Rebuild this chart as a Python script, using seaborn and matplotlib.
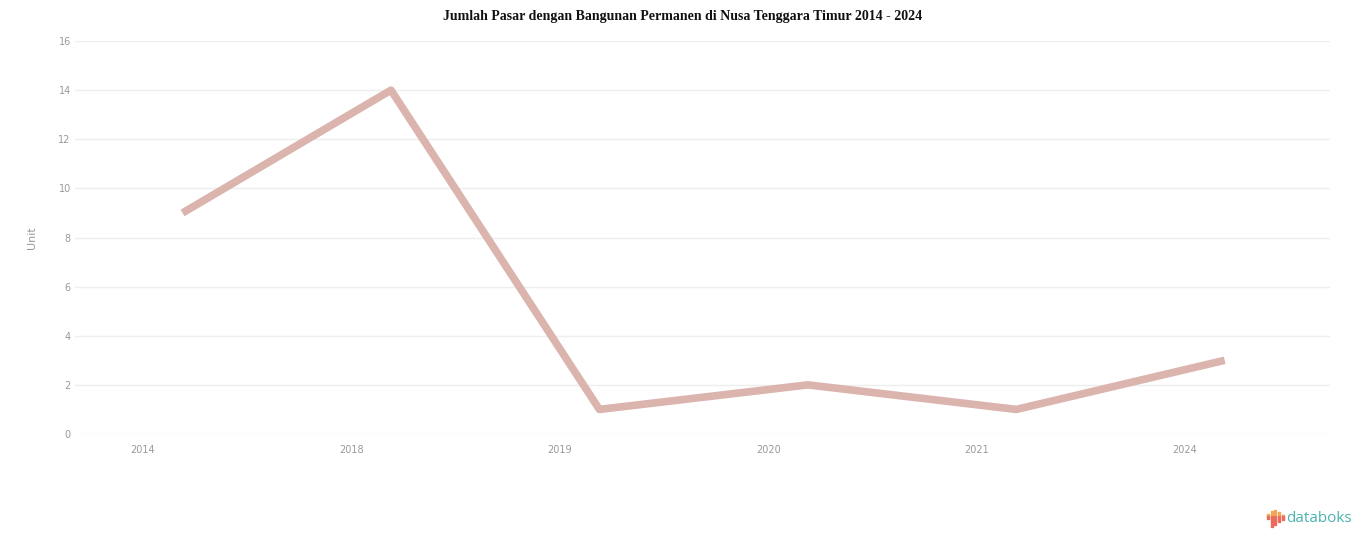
import matplotlib
matplotlib.use("Agg")
import matplotlib.pyplot as plt
import seaborn as sns
import numpy as np
import pandas as pd
from matplotlib.patches import Rectangle

years = ["2014", "2018", "2019", "2020", "2021", "2024"]
values = [9, 14, 1, 2, 1, 3]
y_ticks = [0, 2, 4, 6, 8, 10, 12, 14, 16]

sns.set_theme(style="white")
plt.rcParams["font.family"] = ["DejaVu Sans"]

fig = plt.figure(figsize=(13.66, 5.47), dpi=100)
ax = fig.add_axes([0.0549, 0.2066, 0.9187, 0.7184])

df = pd.DataFrame({"idx": np.arange(len(years)), "val": values})
sns.lineplot(data=df, x="idx", y="val", ax=ax, color="#dab4ad", linewidth=5.5,
             solid_joinstyle="round", solid_capstyle="butt")

ax.set_xlim(-0.516, 5.505)
ax.set_ylim(0, 16)
ax.set_yticks(y_ticks)
ax.set_yticklabels([str(t) for t in y_ticks], fontsize=7, color="#999999")
ax.set_xticks(np.arange(len(years)) - 0.19)
ax.set_xticklabels(years, fontsize=7, color="#999999")
ax.tick_params(axis="y", length=0, pad=3)
ax.tick_params(axis="x", length=0, pad=8)
ax.grid(axis="y", color="#eeeeee", linewidth=1)
for s in ax.spines.values():
    s.set_visible(False)
ax.set_xlabel("")
ax.set_ylabel("Unit", fontsize=8, color="#999999")
ax.yaxis.set_label_coords(-0.030, 0.5)

fig.text(0.5, 0.982, "Jumlah Pasar dengan Bangunan Permanen di Nusa Tenggara Timur 2014 - 2024",
         ha="center", va="top", fontsize=10, fontweight="bold",
         family=["Liberation Serif"], color="#111111")

# databoks logo
fig.text(0.9415, 0.052, "databoks", ha="left", va="center", fontsize=11,
         color="#4bb3ae", family=["Open Sans"])
tops = [0.060, 0.066, 0.068, 0.064, 0.058]
bottoms = [0.052, 0.036, 0.040, 0.046, 0.050]
for i, (t, b) in enumerate(zip(tops, bottoms)):
    x0 = 0.9275 + i * 0.0027
    fig.patches.append(Rectangle((x0, b), 0.0015, 0.058 - b, transform=fig.transFigure,
                                 color="#ec6a5c", zorder=5))
    fig.patches.append(Rectangle((x0, 0.058), 0.0015, t - 0.058, transform=fig.transFigure,
                                 color="#f2a657", zorder=5))

fig.savefig("out.png", dpi=100)
